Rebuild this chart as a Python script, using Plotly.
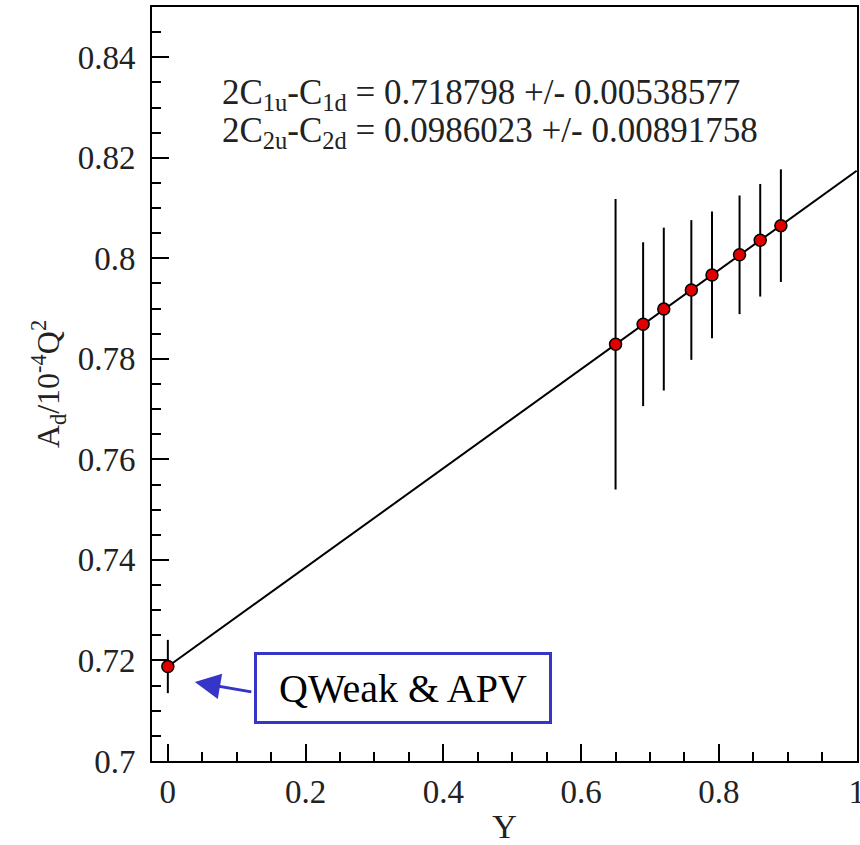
import plotly.graph_objects as go

# Measurements: kinematic variable Y, asymmetry and uncertainty
y_kin = [0.0, 0.65, 0.69, 0.72, 0.76, 0.79, 0.83, 0.86, 0.89]
asym = [0.7188, 0.7829, 0.7869, 0.7899, 0.7937, 0.7967, 0.8007, 0.8036, 0.8065]
asym_err = [0.0053, 0.0289, 0.0163, 0.0162, 0.0139, 0.0126, 0.0118, 0.0112, 0.0112]

# Fit parameters: intercept = 2C1u-C1d, slope = 2C2u-C2d
fit_c1 = 0.718798
fit_c1_err = 0.00538577
fit_c2 = 0.0986023
fit_c2_err = 0.00891758
fit_range = [0.0, 1.0]

x_tickvals = [0, 0.2, 0.4, 0.6, 0.8, 1.0]
x_ticktext = ["0", "0.2", "0.4", "0.6", "0.8", "1"]
y_tickvals = [0.70, 0.72, 0.74, 0.76, 0.78, 0.80, 0.82, 0.84]
y_ticktext = ["0.7", "0.72", "0.74", "0.76", "0.78", "0.8", "0.82", "0.84"]

FONT = "Liberation Serif, Times New Roman, serif"
TEXT = "#222"
BLUE = "#3535c8"

fig = go.Figure()

# straight-line fit A = C1 + C2 * Y
fig.add_trace(go.Scatter(
    x=fit_range,
    y=[fit_c1 + fit_c2 * v for v in fit_range],
    mode="lines",
    line=dict(color="black", width=2),
    hoverinfo="skip",
    showlegend=False,
))

fig.add_trace(go.Scatter(
    x=y_kin,
    y=asym,
    mode="markers",
    marker=dict(size=12, color="#e00000", line=dict(color="black", width=1.5)),
    error_y=dict(type="data", array=asym_err, visible=True,
                 color="black", thickness=2, width=0),
    showlegend=False,
))

axis_common = dict(
    showline=True, linecolor="black", linewidth=2, mirror=True,
    ticks="inside", tickcolor="black", tickwidth=2,
    showgrid=False, zeroline=False,
    ticklabeloverflow="allow", automargin=False,
    tickfont=dict(family=FONT, size=33, color=TEXT),
)

fig.update_xaxes(
    range=[-0.023, 1.0005],
    tickvals=x_tickvals, ticktext=x_ticktext, ticklen=17,
    minor=dict(ticks="inside", ticklen=9, dtick=0.05, tick0=0,
               tickcolor="black", tickwidth=2, showgrid=False),
    title=dict(text="Y", font=dict(family=FONT, size=34, color=TEXT), standoff=6),
    **axis_common,
)
fig.update_yaxes(
    range=[0.70, 0.85],
    tickvals=y_tickvals, ticktext=y_ticktext, ticklen=17,
    minor=dict(ticks="inside", ticklen=9, dtick=0.005, tick0=0.7,
               tickcolor="black", tickwidth=2, showgrid=False),
    title=dict(text="A<sub>d</sub>/10<sup>-4</sup>Q<sup>2</sup>",
               font=dict(family=FONT, size=32, color=TEXT), standoff=8),
    ticklabelstandoff=8,
    **axis_common,
)

# fit results
fig.add_annotation(
    x=0.0755, y=0.8325, xref="x", yref="y", xanchor="left", yanchor="middle",
    text=f"2C<sub>1u</sub>-C<sub>1d</sub> = {fit_c1} +/- {fit_c1_err}",
    showarrow=False, font=dict(family=FONT, size=35, color=TEXT),
)
fig.add_annotation(
    x=0.0755, y=0.8251, xref="x", yref="y", xanchor="left", yanchor="middle",
    text=f"2C<sub>2u</sub>-C<sub>2d</sub> = {fit_c2} +/- {fit_c2_err}",
    showarrow=False, font=dict(family=FONT, size=35, color=TEXT),
)

# labelled box and arrow pointing to the Y=0 point
fig.add_annotation(
    x=0.3415, y=0.7145, xref="x", yref="y", xanchor="center", yanchor="middle",
    text="QWeak &amp; APV", showarrow=False,
    font=dict(family=FONT, size=40, color="black"),
    bordercolor=BLUE, borderwidth=3, borderpad=4, bgcolor="white",
    width=284, height=58,
)
fig.add_annotation(
    x=0.0392, y=0.7157, xref="x", yref="y",
    ax=0.1234, ay=0.7137, axref="x", ayref="y",
    text="", showarrow=True, arrowhead=2, arrowsize=1.7, arrowwidth=3,
    arrowcolor=BLUE,
)

fig.update_layout(
    width=860, height=845,
    margin=dict(l=152, r=3, t=7, b=84),
    paper_bgcolor="white", plot_bgcolor="white",
)

fig.write_html("out.html")
